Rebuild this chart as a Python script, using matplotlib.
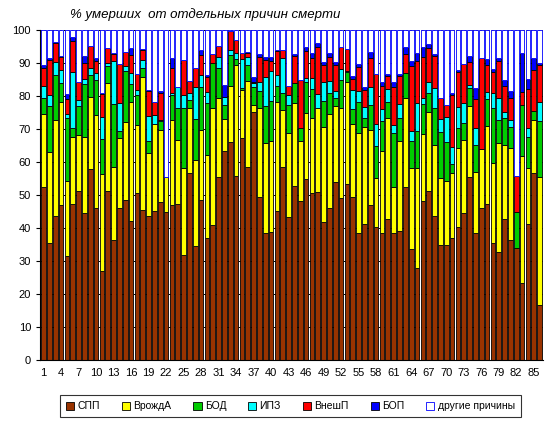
import matplotlib

matplotlib.use("Agg")
matplotlib.rcParams["font.family"] = ["Liberation Sans", "DejaVu Sans"]
import matplotlib.pyplot as plt
import numpy as np
from matplotlib.patches import Patch

# % of deaths by cause, 86 regions
categories = list(range(1, 87))

spp = [52.5, 35.3, 43.6, 47.0, 31.5, 47.3, 51.3, 44.4, 57.8, 45.9,
       27.1, 51.3, 36.3, 45.9, 48.5, 42.1, 50.5, 45.4, 43.7, 45.2,
       48.0, 44.7, 47.0, 47.2, 31.8, 56.8, 34.6, 48.5, 37.1, 40.9,
       55.5, 63.3, 66.1, 55.8, 67.2, 58.6, 75.0, 49.5, 38.6, 38.9,
       45.1, 58.6, 43.4, 52.8, 48.2, 54.8, 50.5, 51.0, 41.9, 46.1,
       54.0, 49.0, 53.3, 49.5, 38.6, 41.2, 47.0, 40.4, 38.4, 42.6,
       38.4, 39.2, 52.3, 33.5, 28.0, 48.3, 51.3, 43.7, 34.8, 34.8,
       37.0, 40.4, 44.4, 55.5, 38.4, 45.9, 47.3, 35.3, 32.8, 42.6,
       36.4, 33.8, 23.4, 41.1, 56.8, 16.7]
vrozhd = [21.9, 27.8, 29.1, 31.3, 22.8, 20.2, 16.9, 23.1, 22.0, 28.3,
          29.4, 32.7, 22.3, 21.3, 23.5, 36.2, 20.7, 40.4, 19.1, 26.3,
          21.7, 10.8, 25.7, 19.5, 26.3, 19.4, 26.0, 21.2, 25.0, 35.3,
          23.8, 9.6, 16.9, 33.6, 14.6, 25.9, 2.3, 26.9, 27.2, 27.4,
          33.2, 17.1, 25.3, 25.0, 18.1, 19.9, 22.7, 25.4, 28.8, 28.3,
          23.0, 27.4, 31.0, 21.9, 30.3, 29.5, 22.7, 14.6, 24.9, 30.6,
          14.1, 27.1, 27.2, 24.8, 30.1, 20.1, 23.9, 21.4, 20.4, 19.4,
          19.8, 23.9, 22.2, 21.5, 18.6, 18.0, 23.7, 24.5, 32.8, 22.5,
          27.9, 0.0, 38.4, 17.2, 15.9, 38.8]
bod = [5.1, 13.9, 13.8, 5.5, 19.1, 2.7, 8.8, 16.0, 6.5, 10.6,
       10.5, 5.1, 18.9, 2.2, 15.7, 5.2, 9.1, 2.6, 3.5, 0.0,
       2.7, 0.0, 7.6, 9.5, 18.1, 2.6, 12.3, 13.1, 15.7, 13.7,
       9.1, 4.3, 9.4, 1.7, 0.5, 4.9, 5.5, 5.2, 11.1, 12.2,
       4.7, 5.1, 8.5, 6.0, 4.1, 9.4, 8.9, 0.0, 7.8, 6.6,
       2.5, 8.4, 3.1, 4.5, 9.4, 2.5, 7.5, 9.8, 9.1, 4.9,
       16.4, 7.1, 7.4, 7.9, 11.3, 9.2, 5.8, 11.1, 14.0, 11.8,
       2.6, 6.1, 5.2, 5.3, 8.1, 0.0, 8.1, 16.6, 7.1, 8.1,
       6.4, 11.1, 15.5, 9.4, 2.7, 16.9]
ipz = [3.6, 3.3, 3.7, 4.1, 1.0, 17.2, 1.8, 1.6, 2.3, 2.3,
       6.7, 0.8, 13.2, 8.6, 1.4, 3.6, 1.5, 2.5, 7.7, 2.7,
       0.3, 0.0, 0.5, 6.6, 4.1, 2.0, 9.7, 3.5, 3.5, 0.0,
       3.5, 2.5, 1.5, 1.8, 8.8, 2.3, 1.0, 2.7, 8.9, 9.1,
       3.5, 10.6, 3.1, 0.0, 0.0, 1.4, 3.2, 4.1, 5.6, 3.5,
       2.0, 3.4, 0.3, 5.9, 3.2, 3.5, 5.6, 6.6, 3.5, 3.9,
       2.3, 4.2, 0.0, 3.3, 8.6, 1.7, 3.1, 6.1, 3.7, 7.5,
       5.0, 6.2, 6.1, 1.0, 5.1, 0.0, 2.0, 4.4, 6.8, 2.0,
       1.9, 0.0, 0.0, 2.7, 0.0, 5.9]
vneshp = [5.5, 10.6, 5.9, 4.0, 4.7, 9.4, 5.3, 5.0, 6.6, 3.5,
          6.9, 4.7, 1.9, 11.6, 4.3, 5.3, 4.9, 3.0, 7.6, 4.1,
          8.1, 0.0, 7.8, 0.0, 10.6, 3.7, 5.8, 6.1, 4.5, 2.7,
          3.3, 0.0, 5.8, 4.1, 2.0, 1.2, 0.5, 7.6, 5.1, 3.0,
          7.1, 2.5, 2.7, 8.3, 14.4, 8.1, 6.3, 14.4, 5.3, 7.4,
          7.9, 6.7, 6.5, 3.2, 7.4, 5.1, 8.6, 15.4, 7.1, 4.0,
          11.6, 8.5, 5.8, 19.7, 12.7, 12.4, 10.3, 9.8, 6.4, 3.8,
          15.9, 10.6, 11.7, 7.1, 8.9, 27.7, 8.3, 6.6, 11.2, 7.8,
          6.7, 10.9, 4.0, 11.7, 12.5, 11.1]
bop = [0.8, 0.5, 0.3, 0.2, 1.4, 1.0, 0.0, 2.0, 0.0, 0.8,
       0.2, 0.0, 0.3, 0.0, 0.0, 2.0, 0.0, 0.2, 0.2, 0.0,
       0.8, 0.0, 2.8, 0.0, 0.0, 0.0, 0.0, 1.5, 0.4, 0.0,
       0.0, 3.6, 0.0, 0.0, 0.0, 0.5, 1.5, 0.7, 1.0, 1.3,
       0.3, 0.0, 0.0, 0.5, 0.0, 1.3, 1.3, 1.0, 1.0, 1.0,
       1.0, 0.0, 0.0, 1.1, 0.7, 0.8, 2.0, 0.0, 1.3, 0.8,
       1.5, 0.7, 2.2, 1.4, 2.2, 3.0, 1.2, 0.5, 0.0, 0.0,
       0.7, 0.7, 0.0, 1.7, 3.4, 0.0, 1.7, 0.7, 0.7, 1.8,
       2.3, 0.0, 11.6, 3.0, 3.5, 0.5]

labels = ["СПП", "ВрождА", "БОД", "ИПЗ", "ВнешП", "БОП", "другие причины"]
colors = ["#993300", "#FFFF00", "#00CC00", "#00FFFF", "#FF0000", "#0000FF", "#FFFFFF"]

series = [spp, vrozhd, bod, ipz, vneshp, bop]
arr = np.array(series)
other = 100 - arr.sum(axis=0)
series.append(other)

fig = plt.figure(figsize=(5.51, 4.28), dpi=100)
ax = fig.add_axes([0.0726, 0.159, 0.913, 0.771])

x = np.arange(len(categories))
bottom = np.zeros(len(categories))
for vals, col in zip(series, colors):
    vals = np.asarray(vals, dtype=float)
    edge = "#0000FF" if col == "#FFFFFF" else "black"
    ax.bar(x, vals, bottom=bottom, width=0.8, color=col, edgecolor=edge,
           linewidth=0.6, zorder=2)
    bottom += vals

ax.set_xlim(-0.6, len(categories) - 0.4)
ax.set_ylim(0, 100)
ax.set_yticks(range(0, 101, 10))
ax.set_xticks(x[::3])
ax.set_xticklabels([str(c) for c in categories[::3]])
ax.tick_params(axis="both", labelsize=8, length=3, width=0.8)
ax.tick_params(axis="x", length=0, pad=6)
ax.yaxis.grid(True, color="black", linestyle=(0, (2, 2)), linewidth=0.7, zorder=0)
ax.set_axisbelow(True)
for side in ["top", "right"]:
    ax.spines[side].set_visible(False)
ax.spines["left"].set_linewidth(0.8)
ax.spines["bottom"].set_linewidth(0.8)

fig.text(0.127, 0.965, "% умерших  от отдельных причин смерти", fontsize=9.5,
         style="italic", ha="left", va="center")

handles = [Patch(facecolor=c, edgecolor=("#0000FF" if c == "#FFFFFF" else "black"),
                 linewidth=0.6) for c in colors]
leg = fig.legend(handles, labels, loc="center", bbox_to_anchor=(0.527, 0.051),
                 ncol=7, fontsize=7.5, frameon=True, fancybox=False,
                 handlelength=0.8, handleheight=0.8, handletextpad=0.3,
                 columnspacing=2.1, borderpad=0.6)
leg.get_frame().set_edgecolor("black")
leg.get_frame().set_linewidth(0.8)

fig.savefig("out.png", dpi=100)
